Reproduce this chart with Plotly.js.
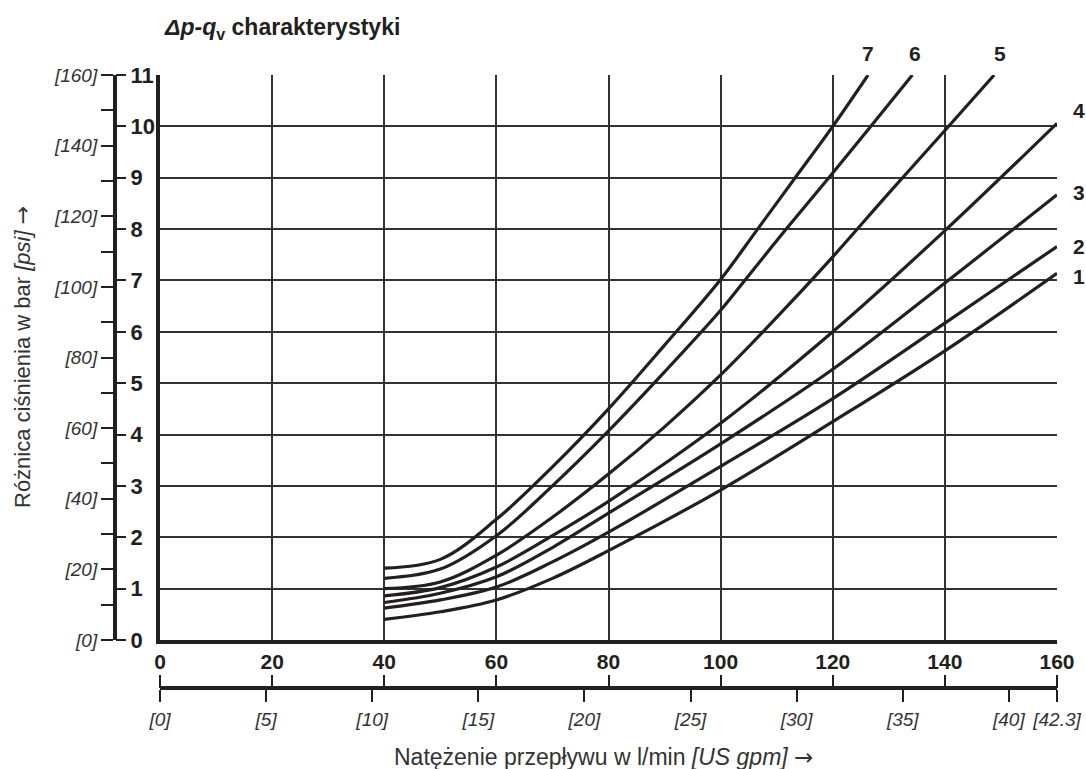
<!DOCTYPE html>
<html>
<head>
<meta charset="utf-8">
<script src="https://cdn.plot.ly/plotly-3.0.1.min.js"></script>
<style>html,body{margin:0;padding:0;background:#fff;}#chart{width:1086px;height:769px;}</style>
</head>
<body>
<div id="chart"></div>
<script>
// ---- data ----
const curveNames = ["1","2","3","4","5","6","7"];
const q14 = [40,50,60,70,80,100,120,140,160];
const dp1 = [0.40,0.55,0.78,1.20,1.74,2.92,4.25,5.63,7.14];
const dp2 = [0.62,0.78,1.03,1.52,2.10,3.38,4.70,6.17,7.66];
const dp3 = [0.73,0.91,1.23,1.80,2.47,3.82,5.27,6.95,8.67];
const dp4 = [0.86,1.02,1.42,2.03,2.70,4.22,6.00,7.97,10.06];
const q5  = [40,50,60,70,80,90,100,110,120,130,140,148.8];
const dp5 = [1.00,1.13,1.65,2.39,3.23,4.15,5.16,6.28,7.46,8.70,9.92,11.0];
const q6  = [40,50,60,70,80,90,100,104.3,111.7,119.3,126.8,134.2];
const dp6 = [1.20,1.38,2.03,3.00,4.07,5.22,6.42,7.0,8.0,9.0,10.0,11.0];
const q7  = [40,50,60,70,80,90,100,106.6,113.3,120.0,126.3];
const dp7 = [1.40,1.57,2.35,3.37,4.50,5.74,7.02,8.0,9.0,10.0,11.0];

const barTicks = [0,1,2,3,4,5,6,7,8,9,10,11];
const psiTicks = [0,20,40,60,80,100,120,140,160];
const psiLabels = psiTicks.map(v => "[" + v + "]");
const psiMinorTicks = [10,30,50,70,90,110,130,150];
const flowTicks = [0,20,40,60,80,100,120,140,160];
const gpmTicks = [0,5,10,15,20,25,30,35,40,42.27];
const gpmLabels = ["[0]","[5]","[10]","[15]","[20]","[25]","[30]","[35]","[40]","[42.3]"];

// ---- style ----
const INK = "#231f20";
const GREY = "#333333";
const NARROW = "'Liberation Sans Narrow', 'Liberation Sans', Arial, sans-serif";
const SANS = "'Liberation Sans', Arial, sans-serif";
const ARROW = "<span style=\"font-family:'DejaVu Sans'\">→</span>";

const xs = [q14,q14,q14,q14,q5,q6,q7];
const ys = [dp1,dp2,dp3,dp4,dp5,dp6,dp7];
const traces = ys.map((y,i) => ({
  x: xs[i], y: y, name: curveNames[i], type: "scatter", mode: "lines",
  line: {color: INK, width: 3.2, shape: "spline", smoothing: 1},
  xaxis: "x", yaxis: "y", hoverinfo: "skip"
}));

// invisible traces to activate the secondary axes
traces.push({x:[0], y:[0], xaxis:"x", yaxis:"y2", mode:"markers", marker:{opacity:0}, hoverinfo:"skip"});
traces.push({x:[0], y:[0], xaxis:"x", yaxis:"y3", mode:"markers", marker:{opacity:0}, hoverinfo:"skip"});
traces.push({x:[0], y:[0], xaxis:"x2", yaxis:"y", mode:"markers", marker:{opacity:0}, hoverinfo:"skip"});
traces.push({x:[0], y:[0], xaxis:"x3", yaxis:"y", mode:"markers", marker:{opacity:0}, hoverinfo:"skip"});

const L = 100, R = 29, T = 75, B = 55, W = 1086, H = 769;
const PW = W - L - R, PH = H - T - B;
const px2x = p => (p - L) / PW;
const py2y = p => (H - B - p) / PH;

const plotLeft = 160, plotBottom = 640, scaleX = 115, lowerAxisY = 688;
const xd0 = px2x(plotLeft), yd0 = py2y(plotBottom);
const XMAX = 160, YMAX = 11;
const dx = x => xd0 + (x / XMAX) * (1 - xd0);
const dy = y => yd0 + (y / YMAX) * (1 - yd0);

// curve label positions (in data units)
const labelPos = [
  ["1", 163.9, 7.07], ["2", 163.9, 7.67], ["3", 163.9, 8.72], ["4", 163.9, 10.3],
  ["5", 149.8, 11.42], ["6", 134.6, 11.42], ["7", 126.3, 11.42]
];

const annotations = [
  {text: "Natężenie przepływu w l/min <i>[US gpm]</i> " + ARROW, xref: "paper", yref: "paper",
   x: px2x(603), y: py2y(757), xanchor: "center", yanchor: "middle", showarrow: false,
   font: {family: SANS, size: 23, color: GREY}},
  {text: "Różnica ciśnienia w bar <i>[psi]</i> " + ARROW, xref: "paper", yref: "paper",
   x: px2x(22), y: py2y(357), xanchor: "center", yanchor: "middle", showarrow: false, textangle: -90,
   font: {family: SANS, size: 22, color: GREY}}
];
labelPos.forEach(([t, x, y]) => annotations.push({
  text: "<b>" + t + "</b>", xref: "paper", yref: "paper", x: dx(x), y: dy(y),
  xanchor: "center", yanchor: "middle", showarrow: false,
  font: {family: NARROW, size: 21, color: INK}
}));

const layout = {
  width: W, height: H,
  margin: {l: L, r: R, t: T, b: B},
  paper_bgcolor: "#fff", plot_bgcolor: "#fff",
  showlegend: false,
  title: {
    text: "<b><i>Δp-q</i><sub>v</sub> charakterystyki</b>",
    font: {family: SANS, size: 23, color: INK},
    xref: "container", x: 165 / W, xanchor: "left",
    yref: "container", y: 1 - 27 / H, yanchor: "middle"
  },
  xaxis: {
    domain: [xd0, 1], range: [0, XMAX], anchor: "y",
    tickvals: flowTicks, ticks: "", showticklabels: true,
    tickfont: {family: NARROW, size: 21, color: INK, weight: "bold"},
    showgrid: true, gridcolor: GREY, gridwidth: 2, zeroline: false,
    showline: true, linecolor: INK, linewidth: 4, fixedrange: true
  },
  yaxis: {
    domain: [yd0, 1], range: [0, YMAX], anchor: "x",
    tickvals: barTicks, ticks: "", showticklabels: false,
    showgrid: true, gridcolor: GREY, gridwidth: 2, zeroline: false,
    showline: true, linecolor: INK, linewidth: 4, fixedrange: true
  },
  yaxis2: {
    overlaying: "y", anchor: "free", position: px2x(scaleX), side: "right",
    range: [0, YMAX], tickvals: barTicks, ticks: "outside", ticklen: 10, tickwidth: 2, tickcolor: INK,
    tickfont: {family: NARROW, size: 22, color: INK, weight: "bold"},
    showgrid: false, zeroline: false, showline: false, fixedrange: true
  },
  yaxis3: {
    overlaying: "y", anchor: "free", position: px2x(scaleX), side: "left",
    range: [0, 160], tickvals: psiTicks, ticktext: psiLabels,
    ticks: "outside", ticklen: 12, tickwidth: 2, tickcolor: INK,
    minor: {tickvals: psiMinorTicks, ticks: "outside", ticklen: 12, tickwidth: 2, tickcolor: INK, showgrid: false},
    tickfont: {family: NARROW, size: 19, color: GREY, style: "italic"},
    showgrid: false, zeroline: false, showline: true, linecolor: INK, linewidth: 4, fixedrange: true
  },
  xaxis2: {
    overlaying: "x", anchor: "free", position: py2y(lowerAxisY), side: "bottom",
    range: [0, 42.27], tickvals: gpmTicks, ticktext: gpmLabels,
    ticks: "outside", ticklen: 12, tickwidth: 2, tickcolor: INK, ticklabelstandoff: 1,
    tickfont: {family: NARROW, size: 19, color: GREY, style: "italic"},
    showgrid: false, zeroline: false, showline: true, linecolor: INK, linewidth: 4, fixedrange: true
  },
  xaxis3: {
    overlaying: "x", anchor: "free", position: py2y(lowerAxisY), side: "top",
    range: [0, XMAX], tickvals: flowTicks, ticks: "outside", ticklen: 13, tickwidth: 2, tickcolor: INK,
    showticklabels: false, showgrid: false, zeroline: false, showline: false, fixedrange: true
  },
  annotations: annotations
};

Plotly.newPlot("chart", traces, layout, {staticPlot: true, displayModeBar: false});
</script>
</body>
</html>
